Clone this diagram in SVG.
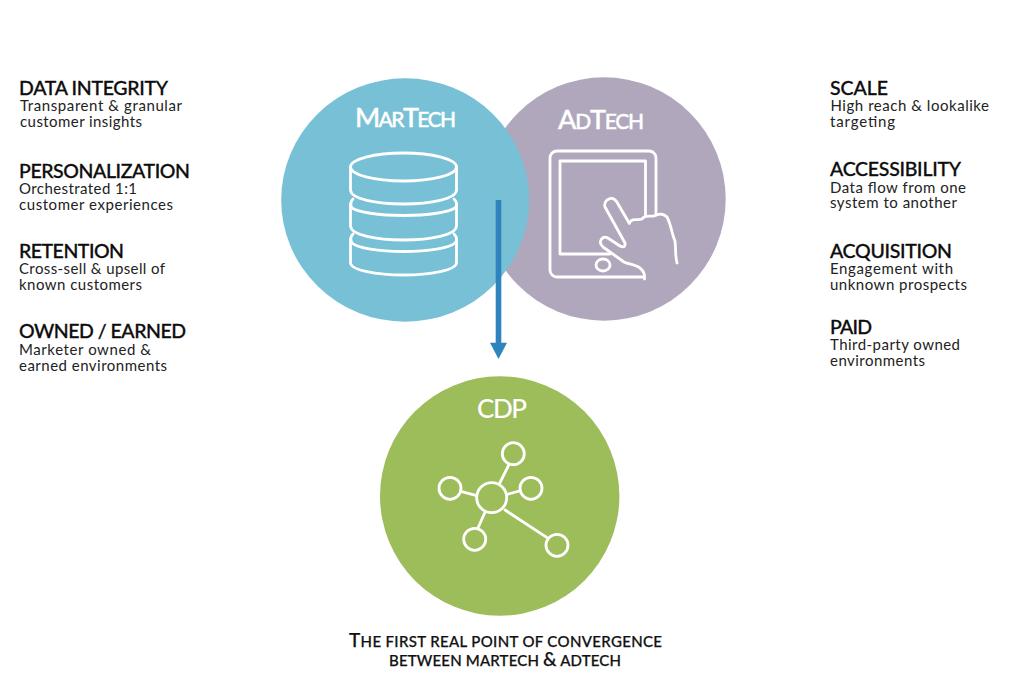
<svg xmlns="http://www.w3.org/2000/svg" width="1024" height="695" viewBox="0 0 1024 695">
<style>
text{font-family:Lato,"Open Sans","Liberation Sans",sans-serif}
.h{font-size:19.500px;font-weight:500;fill:#0d0d0d;stroke:#0d0d0d;stroke-width:.3px}
.b{font-size:15px;fill:#222}
.t{font-size:21px;fill:#fff;font-weight:500;stroke:#fff;stroke-width:.4px}
.big{font-size:27px}
.c{font-size:15px;fill:#111;font-weight:500;stroke:#111;stroke-width:.25px}
.cb{font-size:19px}
.i{fill:none;stroke:#fff;stroke-width:2.800;stroke-linecap:round;stroke-linejoin:round}
</style>
<rect width="1024" height="695" fill="#fff"/>
<g id="adtech">
<circle cx="604" cy="199" r="121.700" fill="#b0a7bc"/>
<text class="t" x="558" y="128.500" textLength="86"><tspan class="big">A</tspan>D<tspan class="big">T</tspan>ECH</text>
<g class="i">
<path d="M656 215V158a7 7 0 0 0-7-7H557a7 7 0 0 0-7 7V270a7 7 0 0 0 7 7H643"/>
<path d="M645.500 215V161H560V254H610"/>
<ellipse cx="603" cy="265" rx="7" ry="6"/>
<path d="M629.300 223.300L616.700 201.700C612 195 603 200 605 207L625 243C625.500 248 622 247 620 246L607 237.500C601 236 598 243 603 247L624 262C630 265 637 264 642 270C645 273 644.500 275 644.500 279"/>
<path d="M629.300 223.300C632 217 638 221 642 219C645 214 650 217 654 216C659 213 664 214 667 217C671 224 672 235 675 241C676 249 675 256 677 263"/>
</g>
</g>
<g id="martech">
<ellipse cx="405.200" cy="200" rx="124" ry="121.700" fill="#78c0d6"/>
<text class="t" x="355" y="127" textLength="101"><tspan class="big">M</tspan>AR<tspan class="big">T</tspan>ECH</text>
<g class="i">
<ellipse cx="403.500" cy="167" rx="53" ry="14"/>
<path d="M350.500 167V190C351 199 376 204 403.500 204S456 199 456.500 190V167"/>
<path d="M353 199C349 203 351 206 352 208C358 212 378 215.500 403.500 215.500S449 212 455 208C457 206 458 203 454 199"/>
<path d="M350.500 204V226C351 235 376 240 403.500 240S456 235 456.500 226V204"/>
<path d="M353 234C349 238 351 241 352 243C358 248 378 251.500 403.500 251.500S449 248 455 243C457 241 458 238 454 234"/>
<path d="M350.500 239V263C351 270 376 275 403.500 275S456 270 456.500 263V239"/>
</g>
</g>
<g id="cdp">
<circle cx="499.700" cy="496" r="119.700" fill="#9dbc5a"/>
<text x="477" y="417.500" font-size="26" fill="#fff" textLength="50" style="font-weight:500">CDP</text>
<g class="i">
<circle cx="491.700" cy="497.700" r="15"/>
<circle cx="513.300" cy="453.700" r="11"/>
<circle cx="450" cy="488.300" r="11"/>
<circle cx="531" cy="488.300" r="11"/>
<circle cx="474.700" cy="539.300" r="11"/>
<circle cx="557" cy="545.300" r="11"/>
<path d="M509.300 464L499.300 484M461.700 491.700L476.700 495.700M519.300 491L507.300 494.300M485 512.300L478.300 527.300M505 510L546.700 537.300"/>
</g>
</g>
<g id="connectors">
<path d="M498.500 200V344" fill="none" stroke="#2f84bd" stroke-width="5.600"/>
<path d="M490 342.700H507L498.500 359Z" fill="#2f84bd"/>
</g>
<g id="caption">
<text class="c" x="349" y="647" textLength="313"><tspan class="cb">T</tspan>HE FIRST REAL POINT OF CONVERGENCE</text>
<text class="c" x="389" y="666" textLength="232">BETWEEN MARTECH <tspan class="cb">&amp;</tspan> ADTECH</text>
</g>
<g id="left-data-integrity">
<text class="h" x="19" y="94.500" textLength="149">DATA INTEGRITY</text>
<text class="b" x="20" y="111" textLength="162">Transparent &amp; granular</text>
<text class="b" x="20" y="126.500" textLength="122">customer insights</text>
</g>
<g id="left-personalization">
<text class="h" x="19" y="177.500" textLength="171">PERSONALIZATION</text>
<text class="b" x="19" y="194" textLength="118">Orchestrated 1:1</text>
<text class="b" x="19" y="210" textLength="154">customer experiences</text>
</g>
<g id="left-retention">
<text class="h" x="19" y="257.500" textLength="105">RETENTION</text>
<text class="b" x="19" y="274" textLength="146">Cross-sell &amp; upsell of</text>
<text class="b" x="19" y="290" textLength="123">known customers</text>
</g>
<g id="left-owned">
<text class="h" x="19" y="337.500" textLength="167">OWNED / EARNED</text>
<text class="b" x="19" y="355" textLength="132">Marketer owned &amp;</text>
<text class="b" x="19" y="371" textLength="148">earned environments</text>
</g>
<g id="right-scale">
<text class="h" x="830" y="94.500" textLength="58">SCALE</text>
<text class="b" x="830.500" y="111" textLength="158.500">High reach &amp; lookalike</text>
<text class="b" x="830" y="126.500" textLength="65">targeting</text>
</g>
<g id="right-accessibility">
<text class="h" x="830" y="175.500" textLength="131">ACCESSIBILITY</text>
<text class="b" x="830" y="192.500" textLength="136">Data flow from one</text>
<text class="b" x="830" y="208" textLength="127">system to another</text>
</g>
<g id="right-acquisition">
<text class="h" x="830" y="257.500" textLength="122">ACQUISITION</text>
<text class="b" x="830" y="274" textLength="123">Engagement with</text>
<text class="b" x="830" y="290" textLength="137">unknown prospects</text>
</g>
<g id="right-paid">
<text class="h" x="830" y="333.500" textLength="42">PAID</text>
<text class="b" x="830" y="350" textLength="130">Third-party owned</text>
<text class="b" x="830" y="366" textLength="95">environments</text>
</g>
</svg>
